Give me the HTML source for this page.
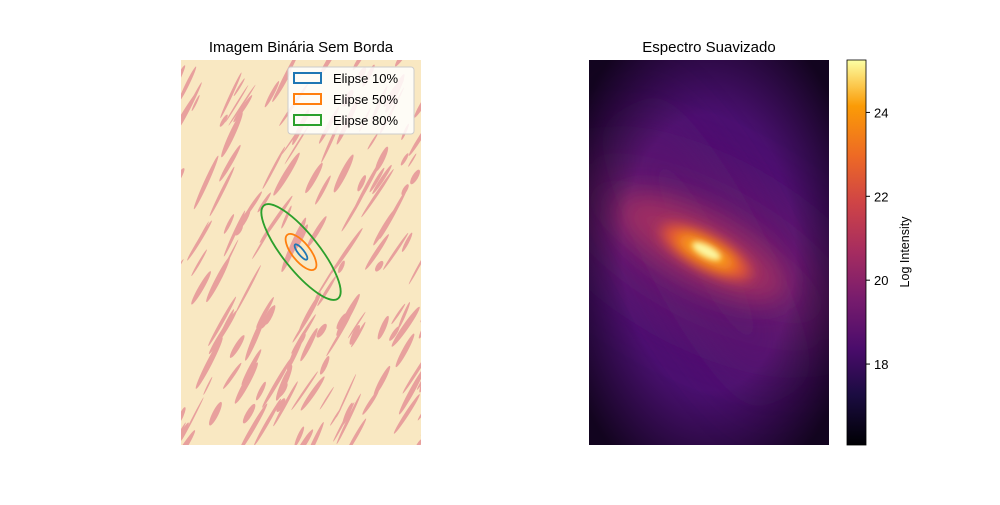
<!DOCTYPE html>
<html><head><meta charset="utf-8">
<style>
body{margin:0;background:#fff;width:1000px;height:500px;overflow:hidden;font-family:"Liberation Sans","DejaVu Sans",sans-serif;}
</style></head>
<body>
<svg id="fig" width="1000" height="500" viewBox="0 0 1000 500" xmlns="http://www.w3.org/2000/svg">
<defs>
  <clipPath id="cl"><rect x="181" y="60" width="240" height="385"/></clipPath>
  <clipPath id="cr"><rect x="589" y="60" width="240" height="385"/></clipPath>
  <filter id="b30" filterUnits="userSpaceOnUse" x="400" y="-200" width="700" height="900"><feGaussianBlur stdDeviation="30"/></filter>
  <filter id="b15" filterUnits="userSpaceOnUse" x="400" y="-200" width="700" height="900"><feGaussianBlur stdDeviation="14"/></filter>
  <filter id="b6" filterUnits="userSpaceOnUse" x="400" y="-200" width="700" height="900"><feGaussianBlur stdDeviation="7"/></filter>
  <filter id="b3" filterUnits="userSpaceOnUse" x="400" y="-200" width="700" height="900"><feGaussianBlur stdDeviation="3"/></filter>
  <linearGradient id="cbar" x1="0" y1="1" x2="0" y2="0">
    <stop offset="0" stop-color="#000004"/><stop offset="0.13" stop-color="#1b0c41"/>
    <stop offset="0.25" stop-color="#4a0c6b"/><stop offset="0.38" stop-color="#781c6d"/>
    <stop offset="0.5" stop-color="#a52c60"/><stop offset="0.63" stop-color="#cf4446"/>
    <stop offset="0.75" stop-color="#ed6925"/><stop offset="0.88" stop-color="#fb9b06"/>
    <stop offset="1" stop-color="#fcffa4"/>
  </linearGradient>
  <radialGradient id="vig" cx="0.5" cy="0.5" r="0.65">
    <stop offset="0.55" stop-color="#000004" stop-opacity="0"/>
    <stop offset="1" stop-color="#000004" stop-opacity="0.75"/>
  </radialGradient>
</defs>
<text x="301" y="52" font-size="15" text-anchor="middle" fill="#000">Imagem Binária Sem Borda</text>
<text x="709" y="52" font-size="15" text-anchor="middle" fill="#000">Espectro Suavizado</text>
<g clip-path="url(#cl)">
  <rect x="181" y="60" width="240" height="385" fill="#f9e8c2"/>
  <g id="streaks"></g>
</g>
<g id="ellipses" clip-path="url(#cl)"></g>
<g>
  <rect x="288" y="67" width="126" height="67" rx="3" fill="#fff" fill-opacity="0.85" stroke="#ccc"/>
  <rect x="294" y="73" width="27" height="10" fill="none" stroke="#1f77b4" stroke-width="2"/>
  <text x="333" y="83" font-size="13">Elipse 10%</text>
  <rect x="294" y="94" width="27" height="10" fill="none" stroke="#ff7f0e" stroke-width="2"/>
  <text x="333" y="104" font-size="13">Elipse 50%</text>
  <rect x="294" y="115" width="27" height="10" fill="none" stroke="#2ca02c" stroke-width="2"/>
  <text x="333" y="125" font-size="13">Elipse 80%</text>
</g>
<g clip-path="url(#cr)">
  <rect x="589" y="60" width="240" height="385" fill="#4a1070"/>
  <ellipse cx="706" cy="252" rx="170" ry="70" fill="#6a1a6e" filter="url(#b30)" transform="rotate(28 706 252)"/>
  <ellipse cx="706" cy="252" rx="40" ry="170" fill="#561470" opacity="0.8" filter="url(#b30)" transform="rotate(-28 706 252)"/>
  <ellipse cx="700" cy="250" rx="95" ry="34" fill="#a02e62" filter="url(#b15)" transform="rotate(28 706 252)"/>
  <ellipse cx="706" cy="252" rx="50" ry="16" fill="#e85a30" filter="url(#b6)" transform="rotate(28 706 252)"/>
  <ellipse cx="706" cy="252" rx="32" ry="10" fill="#fba40a" filter="url(#b6)" transform="rotate(28 706 252)"/>
  <ellipse cx="706" cy="251" rx="16" ry="6" fill="#fcf6a0" filter="url(#b3)" transform="rotate(28 706 252)"/>
  <rect x="589" y="60" width="240" height="385" fill="url(#vig)"/>
</g>
<g>
  <rect x="847" y="60" width="19" height="385" fill="url(#cbar)" stroke="#000" stroke-width="0.8"/>
  <g id="cbticks"></g>
  <text transform="translate(909 252) rotate(-90)" font-size="12.5" text-anchor="middle">Log Intensity</text>
</g>
</svg>
<script>
const cbTicks=[18,20,22,24];
const cbMin=16.07, cbMax=25.25;
const ellipseLabels=["Elipse 10%","Elipse 50%","Elipse 80%"];
const ellipseSemiMajor=[9.5,22,59.5];
const ellipseSemiMinor=[3,9,18];
const ellipseAngle=[51.5,51.5,51.5];
const ellipseColors=["#1f77b4","#ff7f0e","#2ca02c"];
const centerX=[301], centerY=[252];
const NS="http://www.w3.org/2000/svg";
function yCb(v){return 445-(v-cbMin)/(cbMax-cbMin)*385;}
const tg=document.getElementById('cbticks');
cbTicks.forEach(t=>{
  const y=yCb(t);
  const l=document.createElementNS(NS,'line');
  
  
  l.setAttribute('x1',866);l.setAttribute('x2',870);l.setAttribute('y1',y);l.setAttribute('y2',y);l.setAttribute('stroke','#000');
  tg.appendChild(l);
  const tx=document.createElementNS(NS,'text');
  
  
  tx.setAttribute('x',874);tx.setAttribute('y',y+5);tx.setAttribute('font-size','13');tx.textContent=t;
  tg.appendChild(tx);
});
const eg=document.getElementById('ellipses');
ellipseLabels.forEach((n,i)=>{
  const e=document.createElementNS(NS,'ellipse');
  
  
  e.setAttribute('cx',centerX[0]);e.setAttribute('cy',centerY[0]);
  e.setAttribute('rx',ellipseSemiMajor[i]);e.setAttribute('ry',ellipseSemiMinor[i]);
  e.setAttribute('transform','rotate('+ellipseAngle[i]+' '+centerX[0]+' '+centerY[0]+')');
  e.setAttribute('fill','none');e.setAttribute('stroke',ellipseColors[i]);e.setAttribute('stroke-width','1.8');
  eg.appendChild(e);
});
// texture streaks (decorative)
let s=12345;function r(){s=(s*1103515245+12345)%2147483648;return s/2147483648;}
const sg=document.getElementById('streaks');
for(let k=0;k<170;k++){
  const x=170+r()*265,y=50+r()*405,len=6+r()*24,w=0.8+r()*2.4,a=-55-r()*12;
  const e=document.createElementNS(NS,'ellipse');
  
  
  e.setAttribute('cx',x);e.setAttribute('cy',y);e.setAttribute('rx',len);e.setAttribute('ry',w);
  e.setAttribute('transform','rotate('+a+' '+x+' '+y+')');e.setAttribute('fill','#e8a09d');
  sg.appendChild(e);
}
</script>
</body></html>
